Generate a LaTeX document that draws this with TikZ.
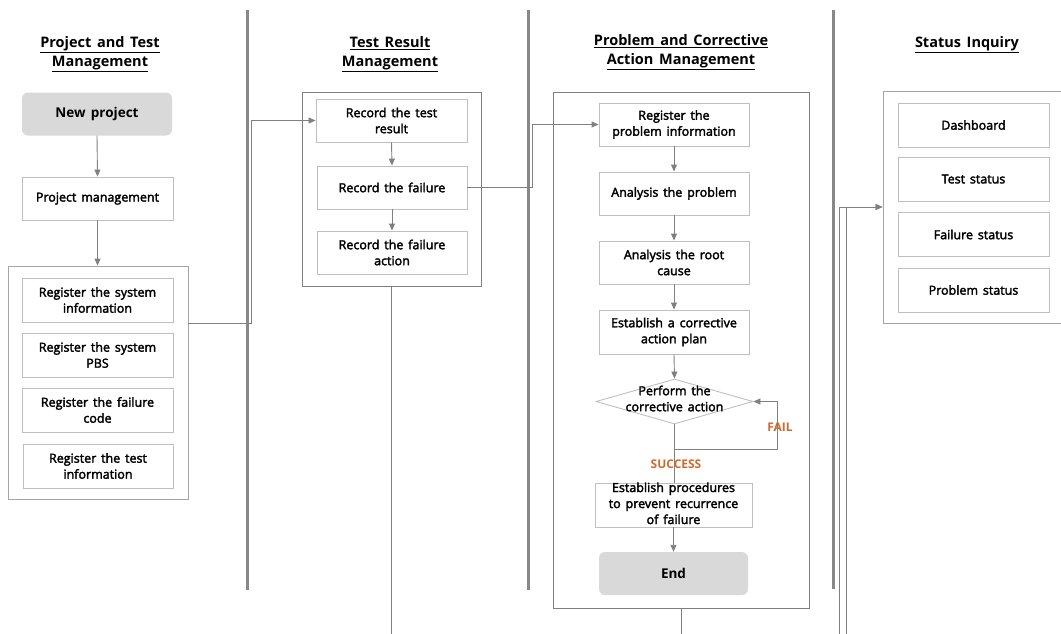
\documentclass[tikz,border=0pt]{standalone}
\usepackage{fontspec}
\setmainfont{Open Sans}[WordSpace=1.5, BoldFont={Open Sans Bold}]
\newfontfamily\bodyfam{Open Sans}[WordSpace=1.5, FakeBold=2.5]
\usetikzlibrary{arrows.meta,shapes.geometric}
\definecolor{boxline}{HTML}{BFBFBF}
\definecolor{contline}{HTML}{7F7F7F}
\definecolor{lightcont}{HTML}{A6A6A6}
\definecolor{conn}{HTML}{808080}
\definecolor{sepline}{HTML}{888888}
\definecolor{termfill}{HTML}{D9D9D9}
\definecolor{orangetxt}{HTML}{D0692B}
\newcommand{\bodyfont}{\bodyfam\fontsize{12.5}{16}\selectfont}
\newcommand{\headfont}{\fontsize{14.5}{19}\selectfont\bfseries}
\newcommand{\termfont}{\fontsize{13.5}{16}\selectfont\bfseries}
\begin{document}
\begin{tikzpicture}[x=1pt,y=-1pt,
  stepbox/.style={draw=boxline, line width=0.9pt, fill=white, minimum width=151pt, minimum height=43pt, inner sep=0.5pt, align=center, font=\bodyfont},
  termbox/.style={fill=termfill, rounded corners=6pt, minimum width=150pt, minimum height=43pt, font=\termfont},
  contbox/.style={draw=contline, line width=0.9pt},
  lightbox/.style={draw=lightcont, line width=0.9pt},
  headtxt/.style={align=center, font=\headfont, inner sep=0pt},
  sepbar/.style={draw=sepline, line width=3pt},
  conline/.style={draw=conn, line width=0.9pt},
  arr/.style={conline, -{Triangle[length=7pt,width=6pt]}},
  decide/.style={diamond, draw=boxline, line width=0.9pt, fill=white, minimum width=157pt, minimum height=45pt, inner sep=0pt},
  flag/.style={text=orangetxt, font=\fontsize{12}{14}\selectfont\bfseries, inner sep=0pt}
]
\useasboundingbox (0,0) rectangle (1061,633);
\clip (0,0) rectangle (1061,633);

% column separators
\draw[sepbar] (247,10) -- (247,590);
\draw[sepbar] (528,10) -- (528,590);
\draw[sepbar] (833,10) -- (833,589);

% headers
\node[headtxt] (h1) at (100,54.5) {\underline{Project and Test}\\\underline{Management}};
\node[headtxt] (h2) at (390,54.5) {\underline{Test Result}\\\underline{Management}};
\node[headtxt] (h3) at (681,52.5) {\underline{Problem and Corrective}\\\underline{Action Management}};
\node[headtxt] (h4) at (967,45) {\underline{Status Inquiry}};

% containers
\node[lightbox, minimum width=180pt, minimum height=233pt] (c1) at (98,382.5) {};
\node[contbox, minimum width=179pt, minimum height=194pt] (c2) at (391.5,189) {};
\node[contbox, minimum width=256pt, minimum height=516pt] (c3) at (681,350) {};
\node[lightbox, minimum width=179pt, minimum height=232pt] (s0) at (972.5,207) {};

% column 1
\node[termbox] (n1) at (97,114) {New project};
\node[stepbox] (pm) at (97.5,198.5) {Project management};
\node[stepbox, minimum height=44pt] (r1) at (97.5,300) {Register the system\\information};
\node[stepbox, minimum height=44pt] (r2) at (97.5,355) {Register the system\\PBS};
\node[stepbox, minimum height=44pt] (r3) at (97.5,410) {Register the failure\\code};
\node[stepbox, minimum height=44pt, minimum width=150pt] (r4) at (98,466) {Register the test\\information};
\draw[arr] (n1.south) -- (pm.north);
\draw[arr] (pm.south) -- (c1.north -| pm.south);

% column 2
\node[stepbox] (t1) at (391.5,120.5) {Record the test\\result};
\node[stepbox, minimum width=150pt] (t2) at (392,187.5) {Record the failure};
\node[stepbox, minimum width=150pt] (t3) at (392,252.5) {Record the failure\\action};
\draw[arr] (t1.south) -- (t2.north);
\draw[arr] (t2.south) -- (t3.north);

% column 3
\node[stepbox, minimum width=150pt] (p1) at (674,124.5) {Register the\\problem information};
\node[stepbox, minimum width=150pt] (p2) at (674,193.5) {Analysis the problem};
\node[stepbox, minimum width=150pt] (p3) at (674,262.5) {Analysis the root\\cause};
\node[stepbox, minimum width=150pt, minimum height=44pt] (p4) at (674,332) {Establish a corrective\\action plan};
\node[decide, label={[align=center, font=\bodyfont, inner sep=0pt, yshift=3pt]center:Perform the\\corrective action}] (d) at (674.5,401.5) {};
\node[stepbox, minimum width=157pt, minimum height=44pt, inner sep=0pt, text height=41pt, text depth=3pt] (p5) at (673.5,505) {Establish procedures\\to prevent recurrence\\of failure};
\node[termbox, minimum width=149pt] (e) at (673.5,573.5) {End};
\draw[arr] (p1.south) -- (p2.north);
\draw[arr] (p2.south) -- (p3.north);
\draw[arr] (p3.south) -- (p4.north);
\draw[arr] (p4.south) -- (d.north);
\draw[conline] (d.south) -- (d.south |- p5.north);
\coordinate (fl) at (777,449);
\draw[arr] (d.south) |- (fl) |- (d.east);
\node[flag] (fail) at (780,427) {FAIL};
\node[flag] (succ) at (676,464) {SUCCESS};
\draw[arr] (p5.south) -- (e.north);

% column 4
\node[stepbox, minimum height=44pt] (s1) at (973.5,125) {Dashboard};
\node[stepbox, minimum height=44pt] (s2) at (973.5,179) {Test status};
\node[stepbox, minimum height=44pt] (s3) at (973.5,234.5) {Failure status};
\node[stepbox, minimum height=44pt] (s4) at (973.5,290) {Problem status};

% cross-column connectors
\draw[arr] ([yshift=-58pt]c1.north east) -- ++(63,0) |- (t1.west);
\draw[arr] (t2.east) -- ++(65,0) |- (p1.west);
\coordinate (k2) at (839,650);
\coordinate (k3) at (846,645);
\draw[arr] (c2.south) |- (k2) |- (s0.west);
\draw[arr] (c3.south) |- (k3) |- (s0.west);
\end{tikzpicture}
\end{document}
